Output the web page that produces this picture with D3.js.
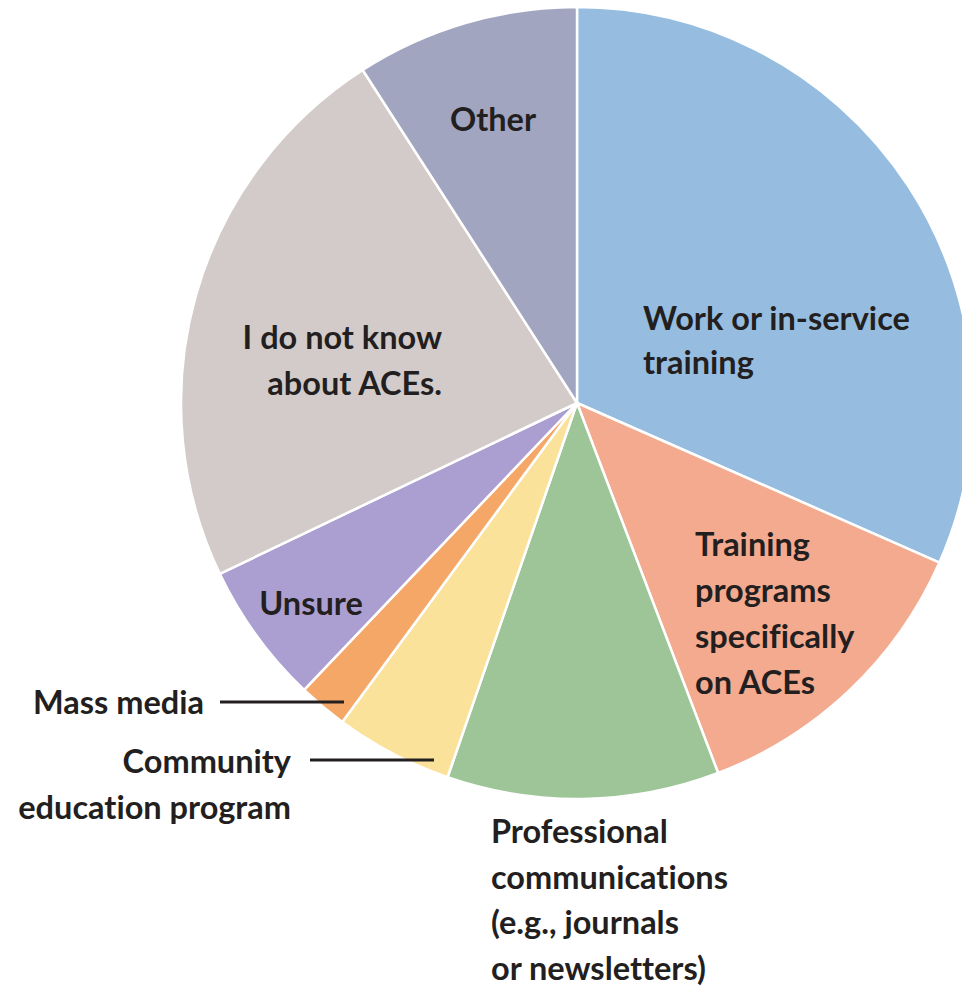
<!DOCTYPE html>
<html>
<head>
<meta charset="utf-8">
<script src="https://cdn.jsdelivr.net/npm/d3@7"></script>
<style>
  body { margin: 0; background: #fff; }
  svg text { font-family: Lato, "Open Sans", sans-serif; font-weight: 700; fill: #231f20; font-variant-ligatures: none; }
</style>
</head>
<body>
<div id="wrapper"></div>
<script>
// slices, clockwise from 12 o'clock (percent of respondents)
const categories = [
    "Work or in-service training",
    "Training programs specifically on ACEs",
    "Professional communications (e.g., journals or newsletters)",
    "Community education program",
    "Mass media",
    "Unsure",
    "I do not know about ACEs.",
    "Other"
];
const shares = [31.6, 12.6, 11.1, 4.8, 2.0, 5.8, 23.0, 9.1];
const colors = ["#96bddf", "#f4aa8f", "#9dc597", "#fbe29b", "#f5a767", "#ab9fd2", "#d3cbc9", "#a1a5c0"];

// label text lines, one entry per slice
const labelLines = [
    ["Work or in-service", "training"],
    ["Training", "programs", "specifically", "on ACEs"],
    ["Professional", "communications", "(e.g., journals", "or newsletters)"],
    ["Community", "education program"],
    ["Mass media"],
    ["Unsure"],
    ["I do not know", "about ACEs."],
    ["Other"]
];

const dimension = { width: 962, height: 989 };
const center = { x: 577, y: 403 };
const radius = 396;

// where each label block sits: x, first baseline, anchor, line spacing
const labelLayout = [
    { x: 643, y: 330, anchor: "start", lh: 44 },
    { x: 695, y: 556, anchor: "start", lh: 46 },
    { x: 491, y: 843, anchor: "start", lh: 45.5 },
    { x: 291, y: 773, anchor: "end", lh: 46 },
    { x: 204, y: 714, anchor: "end", lh: 46 },
    { x: 311, y: 615, anchor: "middle", lh: 46 },
    { x: 442, y: 349, anchor: "end", lh: 46 },
    { x: 493, y: 131, anchor: "middle", lh: 46 }
];
// leader lines for the two thin slices
const leaders = [
    { slice: 4, x1: 220, x2: 344, y: 702 },
    { slice: 3, x1: 310, x2: 434, y: 760 }
];

const data = categories.map((c, i) => ({ name: c, value: shares[i], color: colors[i], lines: labelLines[i] }));

const svg = d3.select("#wrapper").append("svg")
    .attr("width", dimension.width)
    .attr("height", dimension.height);

const pie = d3.pie().sort(null).value(d => d.value);
const arc = d3.arc().innerRadius(0).outerRadius(radius);

const bounded = svg.append("g")
    .attr("transform", `translate(${center.x},${center.y})`);

bounded.selectAll("path")
    .data(pie(data))
    .join("path")
    .attr("d", arc)
    .attr("fill", d => d.data.color)
    .attr("stroke", "#fff")
    .attr("stroke-width", 2.5)
    .attr("stroke-linejoin", "round");

svg.selectAll("line.leader")
    .data(leaders)
    .join("line")
    .attr("class", "leader")
    .attr("x1", d => d.x1)
    .attr("x2", d => d.x2)
    .attr("y1", d => d.y)
    .attr("y2", d => d.y)
    .attr("stroke", "#231f20")
    .attr("stroke-width", 3);

const labels = svg.selectAll("text.label")
    .data(data)
    .join("text")
    .attr("class", "label")
    .attr("font-size", 32.5)
    .attr("text-anchor", (d, i) => labelLayout[i].anchor)
    .attr("transform", (d, i) => `translate(${labelLayout[i].x},${labelLayout[i].y})`);

labels.each(function (d, i) {
    const lh = labelLayout[i].lh;
    d3.select(this).selectAll("tspan")
        .data(d.lines)
        .join("tspan")
        .attr("x", 0)
        .attr("y", (t, j) => j * lh)
        .text(t => t);
});
</script>
</body>
</html>
